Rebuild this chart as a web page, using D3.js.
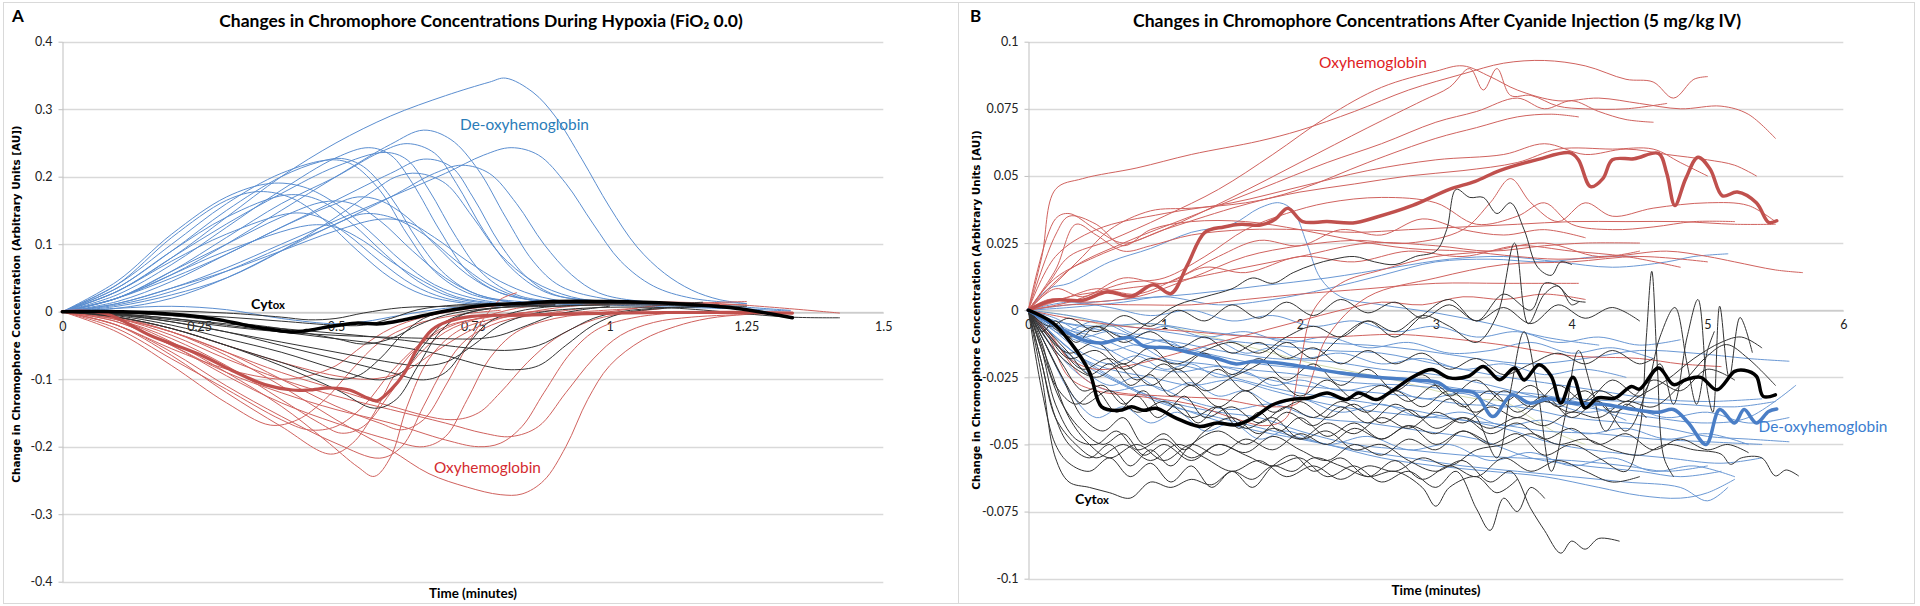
<!DOCTYPE html>
<html>
<head>
<meta charset="utf-8">
<script src="https://cdn.jsdelivr.net/npm/d3@7"></script>
<style>
  body { margin: 0; background: #fff; }
  svg { display: block; }
  text { font-family: Lato, "Open Sans", sans-serif; }
</style>
</head>
<body>
<svg id="chart"></svg>
<script>
// ---------- Panel A: hypoxia (time in minutes, change in AU) ----------
const hypoxiaTicksX = [0, 0.25, 0.5, 0.75, 1, 1.25, 1.5];
const hypoxiaTicksY = [-0.4, -0.3, -0.2, -0.1, 0, 0.1, 0.2, 0.3, 0.4];

const hypoxiaDeoxy = [
  [[0,0],[.1,.03],[.2,.08],[.3,.14],[.4,.2],[.5,.25],[.6,.29],[.7,.32],[.78,.34],[.81,.346],[.86,.325],[.9,.29],[.95,.225],[1,.155],[1.05,.096],[1.1,.057],[1.15,.032],[1.2,.018],[1.25,.012]],
  [[0,0],[.1,.02],[.2,.055],[.3,.1],[.4,.15],[.5,.2],[.6,.248],[.66,.269],[.71,.255],[.76,.21],[.81,.14],[.86,.075],[.91,.038],[1,.018],[1.1,.012],[1.2,.01]],
  [[0,0],[.1,.012],[.2,.035],[.3,.065],[.4,.1],[.5,.135],[.6,.17],[.7,.205],[.77,.232],[.82,.243],[.87,.232],[.92,.19],[.97,.13],[1.02,.075],[1.08,.038],[1.15,.02],[1.25,.012]],
  [[0,0],[.1,.02],[.2,.06],[.3,.11],[.4,.16],[.5,.2],[.58,.236],[.63,.249],[.68,.235],[.72,.19],[.77,.12],[.82,.065],[.88,.03],[.95,.017],[1.05,.012]],
  [[0,0],[.1,.025],[.2,.07],[.3,.125],[.4,.18],[.5,.228],[.56,.243],[.6,.232],[.64,.19],[.69,.12],[.74,.06],[.8,.028],[.88,.015],[.95,.012]],
  [[0,0],[.1,.015],[.2,.045],[.3,.085],[.4,.125],[.5,.165],[.6,.205],[.66,.226],[.71,.215],[.75,.17],[.8,.1],[.85,.05],[.9,.025],[1,.015],[1.1,.01]],
  [[0,0],[.1,.01],[.2,.03],[.3,.06],[.4,.095],[.5,.13],[.6,.17],[.68,.205],[.73,.217],[.78,.205],[.83,.16],[.88,.1],[.93,.055],[.98,.028],[1.05,.016],[1.15,.012],[1.33,.002]],
  [[0,0],[.1,.03],[.2,.08],[.3,.13],[.4,.175],[.5,.215],[.59,.236],[.63,.225],[.67,.18],[.72,.11],[.77,.055],[.83,.025],[.9,.015],[1,.012]],
  [[0,0],[.1,.035],[.2,.09],[.3,.15],[.4,.2],[.47,.222],[.51,.227],[.55,.215],[.6,.17],[.65,.105],[.7,.055],[.76,.025],[.85,.014],[.95,.01]],
  [[0,0],[.1,.04],[.2,.1],[.3,.16],[.4,.205],[.49,.225],[.53,.218],[.58,.18],[.63,.115],[.68,.06],[.74,.028],[.82,.014],[.9,.01]],
  [[0,0],[.1,.04],[.2,.11],[.3,.165],[.36,.178],[.42,.168],[.48,.135],[.54,.09],[.6,.05],[.66,.025],[.73,.013],[.8,.008]],
  [[0,0],[.1,.035],[.2,.09],[.3,.14],[.41,.173],[.47,.165],[.53,.13],[.59,.085],[.65,.045],[.71,.022],[.78,.012],[.86,.008]],
  [[0,0],[.1,.045],[.2,.115],[.3,.17],[.38,.19],[.44,.185],[.5,.16],[.56,.12],[.62,.075],[.68,.04],[.75,.02],[.83,.01]],
  [[0,0],[.1,.02],[.2,.06],[.3,.1],[.4,.14],[.48,.163],[.53,.16],[.58,.135],[.64,.09],[.7,.05],[.76,.025],[.84,.012],[.92,.008]],
  [[0,0],[.1,.012],[.2,.035],[.3,.06],[.4,.09],[.5,.12],[.58,.137],[.63,.133],[.68,.11],[.74,.075],[.8,.045],[.86,.025],[.93,.014],[1,.01],[1.25,.004]],
  [[0,0],[.1,.03],[.2,.075],[.3,.115],[.42,.146],[.47,.14],[.52,.115],[.58,.075],[.64,.04],[.7,.02],[.78,.01]],
  [[0,0],[.1,.02],[.2,.055],[.3,.09],[.45,.128],[.5,.125],[.55,.105],[.6,.075],[.66,.045],[.72,.022],[.8,.012],[.9,.008]],
  [[0,0],[.1,.02],[.2,.05],[.3,.085],[.4,.125],[.5,.16],[.54,.17],[.58,.165],[.63,.14],[.68,.1],[.74,.055],[.8,.028],[.88,.015],[.96,.01]],
  [[0,0],[.1,.008],[.2,.025],[.3,.05],[.4,.09],[.5,.14],[.57,.18],[.61,.2],[.65,.205],[.7,.19],[.75,.14],[.8,.085],[.86,.045],[.93,.022],[1,.014],[1.1,.01]],
  [[0,0],[.1,.005],[.2,.02],[.3,.05],[.4,.09],[.5,.13],[.55,.145],[.6,.14],[.66,.115],[.72,.075],[.78,.04],[.85,.018],[.95,.01]],
  [[0,0],[.1,.005],[.2,.008],[.3,.003],[.4,-.01],[.5,-.018],[.55,-.015],[.62,-.005],[.7,.005],[.8,.01],[.9,.012],[1,.012],[1.33,.001]]
];

const hypoxiaOxy = [
  [[0,0],[.1,-.008],[.2,-.03],[.3,-.065],[.4,-.11],[.5,-.16],[.6,-.205],[.67,-.24],[.74,-.26],[.8,-.271],[.84,-.27],[.88,-.25],[.92,-.2],[.96,-.13],[1,-.08],[1.06,-.042],[1.12,-.022],[1.18,-.01],[1.25,-.004],[1.33,-.002]],
  [[0,0],[.1,-.012],[.2,-.045],[.3,-.09],[.4,-.14],[.48,-.19],[.54,-.23],[.57,-.244],[.6,-.215],[.63,-.14],[.67,-.07],[.72,-.03],[.78,-.012],[.85,-.005],[.95,0],[1.05,.005]],
  [[0,0],[.1,-.01],[.2,-.035],[.3,-.07],[.4,-.1],[.5,-.125],[.6,-.145],[.7,-.165],[.77,-.18],[.82,-.185],[.87,-.17],[.92,-.12],[.97,-.07],[1.02,-.035],[1.08,-.016],[1.15,-.008],[1.25,-.004]],
  [[0,0],[.1,-.015],[.2,-.05],[.3,-.095],[.4,-.135],[.5,-.165],[.6,-.19],[.66,-.2],[.7,-.185],[.74,-.13],[.78,-.07],[.83,-.03],[.9,-.01],[1,0],[1.1,.01],[1.25,.015]],
  [[0,0],[.1,-.02],[.2,-.06],[.3,-.11],[.4,-.155],[.5,-.195],[.58,-.217],[.62,-.2],[.66,-.14],[.7,-.08],[.74,-.04],[.8,-.015],[.88,-.003],[.95,.005]],
  [[0,0],[.1,-.02],[.2,-.065],[.3,-.12],[.4,-.17],[.49,-.211],[.53,-.195],[.57,-.15],[.61,-.09],[.66,-.045],[.72,-.018],[.8,-.005],[.9,.002]],
  [[0,0],[.1,-.03],[.2,-.08],[.3,-.135],[.38,-.168],[.43,-.16],[.48,-.13],[.53,-.085],[.58,-.045],[.64,-.02],[.72,-.005],[.8,.002]],
  [[0,0],[.1,-.01],[.2,-.03],[.3,-.06],[.4,-.09],[.5,-.115],[.6,-.14],[.71,-.16],[.76,-.15],[.8,-.12],[.85,-.075],[.9,-.04],[.96,-.015],[1.02,-.003],[1.1,.005]],
  [[0,0],[.1,-.012],[.2,-.04],[.3,-.08],[.4,-.13],[.47,-.165],[.51,-.18],[.55,-.17],[.6,-.12],[.65,-.065],[.7,-.03],[.76,-.01],[.83,.005],[.9,.012]],
  [[0,0],[.1,-.01],[.2,-.03],[.3,-.06],[.4,-.1],[.5,-.14],[.58,-.165],[.62,-.175],[.66,-.16],[.7,-.11],[.74,-.05],[.77,-.01],[.8,.018],[.83,.028]],
  [[0,0],[.1,-.008],[.2,-.025],[.3,-.05],[.4,-.075],[.5,-.095],[.56,-.1],[.62,-.09],[.68,-.06],[.74,-.03],[.8,-.01],[.88,.003],[.96,.01],[1.1,.012],[1.25,.01]],
  [[0,0],[.1,-.025],[.2,-.07],[.3,-.115],[.4,-.16],[.45,-.175],[.5,-.17],[.55,-.14],[.6,-.09],[.65,-.05],[.7,-.022],[.78,-.008],[.86,0]],
  [[0,0],[.1,-.015],[.2,-.05],[.3,-.09],[.4,-.12],[.5,-.145],[.6,-.165],[.7,-.19],[.76,-.2],[.8,-.195],[.84,-.17],[.88,-.12],[.93,-.06],[.98,-.025],[1.05,-.008],[1.15,0]],
  [[0,0],[.1,-.02],[.2,-.055],[.3,-.085],[.4,-.1],[.45,-.095],[.5,-.08],[.55,-.05],[.6,-.025],[.66,-.008],[.75,.005],[.85,.012],[1,.015],[1.2,.012],[1.42,-.002]]
];

const hypoxiaCytox = [
  [[0,0],[.1,-.003],[.2,-.01],[.3,-.02],[.4,-.03],[.5,-.04],[.6,-.05],[.7,-.065],[.77,-.08],[.82,-.086],[.87,-.08],[.92,-.05],[.97,-.02],[1.02,-.003],[1.1,.005],[1.2,.008]],
  [[0,0],[.1,-.003],[.2,-.01],[.3,-.018],[.4,-.025],[.5,-.032],[.6,-.04],[.7,-.05],[.77,-.056],[.82,-.057],[.87,-.05],[.92,-.03],[.97,-.01],[1.02,0],[1.1,.006],[1.2,.008]],
  [[0,0],[.1,-.005],[.2,-.015],[.3,-.03],[.4,-.05],[.5,-.07],[.6,-.09],[.66,-.101],[.7,-.09],[.74,-.05],[.78,-.015],[.83,0],[.9,.008],[1,.01]],
  [[0,0],[.1,-.006],[.2,-.02],[.3,-.04],[.4,-.06],[.5,-.085],[.58,-.101],[.62,-.09],[.66,-.05],[.7,-.015],[.75,0],[.82,.008],[.9,.01]],
  [[0,0],[.1,-.008],[.2,-.025],[.3,-.05],[.4,-.08],[.5,-.115],[.57,-.143],[.61,-.13],[.65,-.08],[.69,-.03],[.73,-.005],[.8,.006],[.9,.01]],
  [[0,0],[.1,-.008],[.2,-.025],[.3,-.05],[.4,-.075],[.5,-.1],[.54,-.095],[.58,-.07],[.62,-.035],[.66,-.01],[.72,.004],[.8,.01]],
  [[0,0],[.1,-.004],[.2,-.012],[.3,-.022],[.4,-.03],[.5,-.035],[.6,-.038],[.7,-.04],[.76,-.04],[.8,-.035],[.85,-.02],[.9,-.005],[.95,.003],[1,.008]],
  [[0,0],[.1,-.002],[.2,-.004],[.3,-.008],[.4,-.014],[.5,-.02],[.55,-.02],[.6,-.01],[.65,.003],[.72,.01],[.8,.012],[.9,.012],[1,.012],[1.1,.012],[1.2,.01]],
  [[0,0],[.1,0],[.2,.001],[.3,-.002],[.4,-.008],[.45,-.012],[.5,-.01],[.55,-.002],[.62,.006],[.7,.008],[.8,.01],[.9,.012],[1,.012],[1.1,.012],[1.17,.014]],
  [[0,0],[.1,-.002],[.2,-.006],[.3,-.015],[.4,-.025],[.5,-.04],[.55,-.048],[.6,-.04],[.65,-.02],[.7,-.005],[.78,.005],[.9,.008],[1,.01],[1.25,.008]],
  [[0,0],[.1,-.004],[.2,-.015],[.3,-.03],[.4,-.045],[.5,-.06],[.6,-.075],[.65,-.08],[.7,-.075],[.75,-.05],[.8,-.02],[.86,-.003],[.95,.005],[1.1,.006],[1.33,-.008],[1.42,-.009]]
];

const hypoxiaOxyMean = [[0,0],[.08,-.003],[.16,-.035],[.25,-.063],[.31,-.087],[.37,-.108],[.42,-.116],[.45,-.116],[.49,-.113],[.525,-.116],[.558,-.128],[.575,-.132],[.6,-.116],[.625,-.091],[.647,-.057],[.675,-.027],[.703,-.015],[.748,-.007],[.837,-.005],[1,-.002],[1.23,-.001],[1.334,-.002]];
const hypoxiaCytoxMean = [[0,0],[.11,0],[.22,-.005],[.28,-.011],[.335,-.02],[.38,-.026],[.424,-.03],[.446,-.028],[.49,-.022],[.536,-.017],[.58,-.018],[.625,-.012],[.67,-.004],[.714,.003],[.78,.01],[.837,.012],[.893,.015],[1,.015],[1.116,.012],[1.23,.005],[1.334,-.009]];

// ---------- Panel B: cyanide injection ----------
const cyanideTicksX = [0, 1, 2, 3, 4, 5, 6];
const cyanideTicksY = [-0.1, -0.075, -0.05, -0.025, 0, 0.025, 0.05, 0.075, 0.1];

const cyanideOxy = [
  [[0,0],[.1,.02],[.2,.045],[.4,.049],[.8,.053],[1.2,.058],[1.7,.063],[2,.067],[2.4,.074],[2.8,.082],[3.2,.088],[3.5,.092],[3.8,.093],[4.1,.091],[4.4,.086],[4.6,.085],[4.75,.079],[4.9,.086],[5,.087]],
  [[0,0],[.15,.01],[.3,.02],[.6,.026],[1,.035],[1.4,.045],[1.8,.058],[2.2,.072],[2.6,.083],[3,.089],[3.2,.091],[3.4,.087],[3.6,.082],[3.9,.078],[4.2,.079],[4.5,.077],[4.8,.075],[5.1,.076],[5.3,.073],[5.5,.064]],
  [[0,0],[.2,.012],[.5,.02],[1,.03],[1.5,.042],[2,.055],[2.5,.068],[2.9,.078],[3.1,.083],[3.25,.09],[3.35,.082],[3.45,.09],[3.55,.08],[3.7,.08],[3.9,.076],[4.1,.075],[4.4,.075],[4.7,.077]],
  [[0,0],[.3,.015],[.7,.025],[1.2,.035],[1.7,.045],[2.2,.055],[2.6,.062],[3,.07],[3.3,.074],[3.6,.079],[3.8,.075],[4,.078],[4.2,.074],[4.4,.071],[4.6,.07]],
  [[0,0],[.2,.034],[.3,.036],[.5,.03],[.7,.025],[1,.03],[1.5,.038],[2,.045],[2.5,.055],[3,.064],[3.3,.068],[3.6,.072],[3.85,.073],[4.05,.072]],
  [[0,0],[.2,.02],[.5,.03],[1,.036],[1.5,.04],[2,.046],[2.5,.052],[3,.056],[3.5,.058],[3.8,.062],[4.1,.058],[4.4,.06],[4.7,.058],[5,.056],[5.2,.054],[5.36,.05]],
  [[0,0],[.15,.004],[.4,.003],[.8,.005],[1.2,.012],[1.6,.02],[2,.024],[2.4,.026],[2.8,.025],[3.2,.03],[3.4,.04],[3.55,.049],[3.7,.04],[3.9,.033],[4.1,.04],[4.3,.035],[4.6,.038],[5,.04],[5.3,.039],[5.5,.033]],
  [[0,0],[.2,.028],[.3,.035],[.5,.032],[.7,.024],[.9,.03],[1.2,.033],[1.6,.033],[2,.03],[2.4,.026],[2.8,.023],[3.2,.022],[3.6,.02],[3.9,.019],[4.3,.02],[4.7,.022],[5,.02],[5.2,.018],[5.5,.015],[5.7,.014]],
  [[0,0],[.3,.005],[.7,.008],[1,.01],[1.5,.015],[2,.02],[2.5,.025],[3,.024],[3.4,.022],[3.8,.024],[4.1,.025],[4.5,.025]],
  [[0,0],[.3,.002],[.8,.002],[1.2,.002],[1.6,.004],[2,.006],[2.5,.008],[3,.01],[3.5,.01],[4.05,.01]],
  [[0,0],[.15,-.01],[.3,-.025],[.5,-.03],[.8,-.032],[1.2,-.035],[1.5,-.04],[1.75,-.043],[1.9,-.04],[2,-.02],[2.1,0],[2.3,.01],[2.6,.015],[3,.02],[3.4,.022],[3.8,.025],[4.2,.02],[4.5,.022]],
  [[0,0],[.2,-.012],[.4,-.025],[.6,-.03],[1,-.032],[1.4,-.033],[1.8,-.036],[2,-.034],[2.2,-.01],[2.5,.005],[3,.012],[3.5,.017],[4,.018],[4.5,.02],[5,.018]],
  [[0,0],[.3,-.003],[.7,-.006],[1.2,-.008],[1.7,-.01],[2.2,-.01],[2.7,-.009],[3,-.01],[3.5,-.013],[4,-.017],[4.5,-.018],[4.8,-.02],[5.1,-.021]],
  [[0,0],[.2,.015],[.35,.032],[.5,.028],[.7,.022],[.9,.024],[1.2,.028],[1.6,.03],[2,.03],[2.4,.029],[2.8,.03],[3.2,.031],[3.6,.032],[4,.033],[4.4,.033],[4.8,.033],[5.2,.032],[5.5,.032]],
  [[0,0],[.2,.01],[.4,.02],[.6,.03],[.9,.037],[1.2,.038],[1.6,.04],[2,.044],[2.4,.047],[2.8,.05],[3.2,.052],[3.6,.055],[3.9,.06],[4.3,.06],[4.6,.06],[4.8,.055],[5,.05]],
  [[0,0],[.3,.003],[.7,.01],[1,.012],[1.3,.02],[1.6,.03],[1.9,.036],[2.2,.04],[2.6,.042],[3,.04],[3.3,.032],[3.6,.035],[3.8,.04],[4,.032],[4.3,.03],[4.6,.031],[4.9,.033],[5.2,.033]],
  [[0,0],[.2,.008],[.4,.005],[.7,.012],[1,.01],[1.3,.016],[1.6,.014],[2,.02],[2.4,.018],[2.8,.022],[3.2,.02],[3.6,.024],[4,.022],[4.4,.02],[4.8,.016]],
  [[0,0],[.25,.004],[.5,.008],[.8,.006],[1.1,.012],[1.4,.02],[1.7,.026],[2,.024],[2.3,.03],[2.6,.028],[2.9,.034],[3.2,.03],[3.5,.028],[3.8,.03],[4.1,.027]],
  [[0,0],[.15,-.008],[.3,-.018],[.5,-.022],[.8,-.02],[1.1,-.016],[1.4,-.012],[1.7,-.008],[2,-.004],[2.3,0],[2.6,.003],[2.9,.002],[3.2,.005],[3.5,.004],[3.8,.006],[4.1,.004]]
];

const cyanideDeoxy = [
  [[0,0],[.15,.008],[.3,.01],[.6,.018],[.9,.023],[1.2,.029],[1.5,.032],[1.7,.038],[1.85,.04],[1.95,.037],[2.05,.025],[2.15,.012],[2.3,.005],[2.6,.002],[3,-.001],[3.4,-.005],[3.8,-.01],[4.2,-.013]],
  [[0,0],[.3,.002],[.7,.004],[1.2,.006],[1.7,.009],[2.2,.012],[2.7,.016],[3.1,.019],[3.5,.02],[3.9,.018],[4.3,.016],[4.7,.018],[4.9,.02],[5.15,.021]],
  [[0,0],[.2,-.004],[.5,-.006],[.9,-.005],[1.3,-.008],[1.7,-.01],[2.1,-.012],[2.5,-.013],[2.9,-.015],[3.3,-.018],[3.7,-.02],[4.1,-.018],[4.5,-.015],[4.9,-.016],[5.3,-.018],[5.6,-.019]],
  [[0,0],[.2,-.008],[.4,-.012],[.6,-.015],[.8,-.013],[1,-.018],[1.3,-.02],[1.6,-.022],[2,-.024],[2.4,-.027],[2.8,-.028],[3.2,-.03],[3.6,-.032],[4,-.033],[4.4,-.034],[4.8,-.035],[5.2,-.036],[5.5,-.034]],
  [[0,0],[.2,-.01],[.4,-.018],[.6,-.022],[.9,-.025],[1.2,-.028],[1.5,-.026],[1.8,-.03],[2.2,-.035],[2.6,-.038],[3,-.04],[3.4,-.042],[3.8,-.045],[4.2,-.046],[4.6,-.048],[5,-.049],[5.4,-.05]],
  [[0,0],[.2,-.012],[.4,-.02],[.7,-.028],[1,-.035],[1.4,-.04],[1.8,-.045],[2.2,-.05],[2.6,-.055],[3,-.058],[3.4,-.06],[3.8,-.062],[4.2,-.066],[4.5,-.069],[4.8,-.07],[5,-.068],[5.2,-.063]],
  [[0,0],[.2,-.006],[.5,-.01],[.8,-.016],[1.1,-.02],[1.5,-.025],[1.9,-.03],[2.3,-.033],[2.7,-.036],[3.1,-.04],[3.5,-.044],[3.9,-.05],[4.3,-.053],[4.7,-.055],[5.1,-.057],[5.4,-.055]],
  [[0,0],[.25,-.008],[.5,-.004],[.8,-.01],[1.1,-.012],[1.4,-.015],[1.8,-.018],[2.2,-.019],[2.6,-.022],[3,-.024],[3.4,-.028],[3.8,-.033],[4.2,-.037],[4.6,-.04],[5,-.042],[5.3,-.04],[5.65,-.028]],
  [[0,0],[.2,-.015],[.4,-.025],[.6,-.03],[.9,-.028],[1.2,-.034],[1.5,-.037],[1.8,-.035],[2.1,-.04],[2.5,-.042],[2.9,-.045],[3.3,-.048],[3.7,-.055],[4.1,-.058],[4.5,-.06],[4.8,-.062],[5.1,-.06]],
  [[0,0],[.2,-.005],[.5,-.012],[.8,-.02],[1.1,-.023],[1.4,-.021],[1.7,-.025],[2,-.028],[2.4,-.03],[2.8,-.032],[3.2,-.035],[3.6,-.036],[4,-.04],[4.4,-.042],[4.7,-.044],[5,-.047],[5.3,-.048],[5.6,-.049]],
  [[0,0],[.3,.001],[.7,.003],[1,.005],[1.4,.002],[1.8,.004],[2.2,.008],[2.6,.013],[3,.018],[3.4,.019],[3.8,.018],[4.2,.02],[4.5,.02]],
  [[0,0],[.2,-.01],[.4,-.018],[.8,-.03],[1.2,-.038],[1.6,-.044],[2,-.048],[2.4,-.052],[2.8,-.055],[3.2,-.058],[3.6,-.06],[4,-.062],[4.4,-.064],[4.8,-.066],[5,-.071],[5.15,-.066]],
  [[0,0],[.25,-.012],[.5,-.022],[.8,-.03],[1.1,-.035],[1.4,-.038],[1.7,-.04],[2,-.045],[2.4,-.05],[2.8,-.052],[3.2,-.054],[3.6,-.055],[4,-.056],[4.4,-.058],[4.7,-.06],[5,-.058]],
  [[0,0],[.3,-.002],[.6,-.005],[1,-.008],[1.4,-.011],[1.8,-.013],[2.2,-.015],[2.6,-.016],[3,-.02],[3.4,-.024],[3.8,-.027],[4.2,-.03],[4.6,-.033],[5,-.034],[5.4,-.033]],
  [[0,0],[.2,-.004],[.6,-.008],[1,-.012],[1.3,-.016],[1.7,-.02],[2.1,-.022],[2.5,-.024],[2.9,-.027],[3.3,-.03],[3.7,-.031],[4.1,-.035],[4.4,-.041]],
  [[0,0],[.2,-.006],[.4,-.01],[.6,-.008],[.8,-.013],[1,-.011],[1.2,-.015],[1.4,-.012],[1.6,-.016],[1.8,-.014],[2,-.018],[2.3,-.016],[2.6,-.02],[2.9,-.018],[3.2,-.022],[3.5,-.02],[3.8,-.024],[4.1,-.022],[4.4,-.025]],
  [[0,0],[.2,-.012],[.4,-.022],[.6,-.028],[.8,-.025],[1,-.03],[1.2,-.027],[1.4,-.032],[1.6,-.03],[1.8,-.035],[2,-.033],[2.3,-.038],[2.6,-.035],[2.9,-.04],[3.2,-.038],[3.5,-.043],[3.8,-.041],[4.1,-.046],[4.4,-.044],[4.7,-.048],[5,-.046],[5.3,-.05]],
  [[0,0],[.15,-.015],[.3,-.03],[.5,-.04],[.7,-.036],[.9,-.042],[1.1,-.038],[1.3,-.045],[1.5,-.042],[1.7,-.048],[1.9,-.045],[2.2,-.05],[2.5,-.047],[2.8,-.052],[3.1,-.05],[3.4,-.056],[3.7,-.053],[4,-.058],[4.3,-.055],[4.6,-.06],[4.9,-.058],[5.2,-.062]],
  [[0,0],[.2,-.003],[.4,-.008],[.6,-.005],[.8,-.009],[1,-.006],[1.3,-.01],[1.6,-.008],[1.9,-.012],[2.2,-.01],[2.5,-.014],[2.8,-.012],[3.1,-.016],[3.4,-.015],[3.7,-.012],[4,-.016],[4.3,-.014],[4.6,-.018]],
  [[0,0],[.2,-.008],[.4,-.016],[.6,-.02],[.8,-.017],[1,-.022],[1.2,-.02],[1.4,-.025],[1.6,-.023],[1.8,-.028],[2,-.026],[2.3,-.03],[2.6,-.028],[2.9,-.033],[3.2,-.031],[3.5,-.036],[3.8,-.034],[4.1,-.038],[4.4,-.036],[4.7,-.04],[5,-.038],[5.3,-.042],[5.6,-.04]],
  [[0,0],[.3,.003],[.6,.001],[.9,-.002],[1.2,0],[1.5,-.004],[1.8,-.002],[2.1,-.006],[2.4,-.004],[2.7,-.008],[3,-.006],[3.3,-.01],[3.6,-.008],[3.9,-.012],[4.2,-.01],[4.5,-.013],[4.8,-.011]]
];

const cyanideCytox = [
  [[0,0],[.1,-.025],[.2,-.055],[.3,-.064],[.45,-.066],[.6,-.068],[.75,-.07],[.9,-.064],[1.05,-.066],[1.2,-.063],[1.35,-.065],[1.5,-.06],[1.65,-.063],[1.8,-.058],[1.95,-.06],[2.1,-.055],[2.3,-.058],[2.5,-.062],[2.7,-.06],[2.9,-.066],[3,-.073],[3.1,-.066],[3.3,-.062],[3.45,-.068],[3.6,-.063]],
  [[0,0],[.1,-.008],[.2,-.004],[.35,-.012],[.5,-.006],[.7,-.01],[.9,-.004],[1.1,.002],[1.3,.005],[1.5,.008],[1.65,.012],[1.8,.01],[1.95,.014],[2.1,.017],[2.25,.019],[2.4,.02],[2.55,.018],[2.7,.017],[2.85,.02],[3,.022],[3.08,.03],[3.15,.045],[3.25,.042],[3.35,.042],[3.45,.036],[3.55,.04],[3.65,.03],[3.75,.016],[3.85,.013],[3.92,.018],[4,.017]],
  [[0,0],[.15,-.01],[.3,-.018],[.5,-.015],[.7,-.022],[.9,-.018],[1.1,-.02],[1.3,-.015],[1.5,-.012],[1.7,-.016],[1.9,-.01],[2.1,-.006],[2.3,-.01],[2.5,-.004],[2.7,-.008],[2.9,-.002],[3.1,-.006],[3.3,-.012],[3.45,-.002],[3.58,.025],[3.68,-.005],[3.8,.006],[3.9,.009],[4,.002],[4.05,.003]],
  [[0,0],[.1,-.015],[.2,-.035],[.35,-.048],[.5,-.05],[.65,-.045],[.8,-.052],[1,-.048],[1.2,-.055],[1.4,-.05],[1.6,-.053],[1.8,-.047],[2,-.052],[2.2,-.056],[2.4,-.05],[2.6,-.054],[2.8,-.048],[3,-.052],[3.2,-.045],[3.4,-.05],[3.6,-.046],[3.8,-.054],[4,-.05],[4.2,-.055],[4.4,-.06],[4.5,-.045],[4.55,-.01],[4.59,.0145],[4.63,-.02],[4.68,-.055],[4.75,-.062]],
  [[0,0],[.1,-.01],[.25,-.025],[.4,-.04],[.55,-.045],[.7,-.04],[.85,-.05],[1,-.046],[1.15,-.052],[1.3,-.045],[1.5,-.04],[1.7,-.046],[1.9,-.038],[2.1,-.043],[2.3,-.036],[2.5,-.042],[2.7,-.035],[2.9,-.04],[3.1,-.033],[3.3,-.038],[3.5,-.03],[3.7,-.036],[3.9,-.028],[4.1,-.034],[4.3,-.026],[4.5,-.032],[4.65,-.02],[4.75,-.035],[4.85,-.01],[4.93,.004],[5,-.03],[5.04,-.038],[5.09,.0015],[5.16,-.025],[5.24,-.0027],[5.33,-.0157]],
  [[0,0],[.15,-.02],[.3,-.04],[.45,-.05],[.6,-.055],[.8,-.05],[1,-.056],[1.2,-.05],[1.4,-.054],[1.6,-.048],[1.8,-.052],[2,-.046],[2.2,-.05],[2.4,-.044],[2.6,-.048],[2.8,-.043],[3,-.046],[3.2,-.04],[3.4,-.044],[3.6,-.04],[3.8,-.043],[4,-.038],[4.2,-.04],[4.4,-.034],[4.6,-.036],[4.8,-.028],[5,-.017],[5.14,-.0128],[5.3,-.018],[5.5,-.028]],
  [[0,0],[.1,-.02],[.2,-.04],[.35,-.05],[.5,-.055],[.7,-.05],[.9,-.056],[1.1,-.05],[1.3,-.055],[1.5,-.06],[1.7,-.056],[1.9,-.062],[2.1,-.058],[2.3,-.063],[2.5,-.058],[2.7,-.06],[2.9,-.055],[3.1,-.058],[3.3,-.052],[3.5,-.05],[3.7,-.046],[3.9,-.05],[4.1,-.048],[4.3,-.052],[4.5,-.054],[4.7,-.05],[4.9,-.052],[5.1,-.0536],[5.17,-.0574],[5.25,-.055],[5.4,-.055],[5.5,-.0617],[5.58,-.0595],[5.67,-.0617]],
  [[0,0],[.1,-.01],[.25,-.025],[.4,-.035],[.6,-.03],[.8,-.038],[1,-.034],[1.2,-.04],[1.4,-.036],[1.6,-.044],[1.8,-.04],[2,-.048],[2.2,-.045],[2.4,-.052],[2.6,-.05],[2.8,-.056],[3,-.06],[3.2,-.056],[3.4,-.064],[3.55,-.06],[3.7,-.074],[3.8,-.082],[3.92,-.0905],[4,-.086],[4.1,-.089],[4.2,-.085],[4.35,-.086]],
  [[0,0],[.1,-.015],[.25,-.035],[.4,-.045],[.55,-.05],[.7,-.046],[.85,-.054],[1,-.05],[1.2,-.056],[1.4,-.05],[1.6,-.054],[1.8,-.058],[2,-.055],[2.2,-.062],[2.4,-.058],[2.6,-.064],[2.8,-.06],[3,-.066],[3.15,-.06],[3.3,-.074],[3.4,-.082],[3.5,-.07],[3.6,-.075],[3.7,-.066],[3.8,-.07]],
  [[0,0],[.1,-.008],[.25,-.02],[.4,-.03],[.55,-.028],[.7,-.035],[.85,-.03],[1,-.038],[1.15,-.032],[1.3,-.04],[1.5,-.036],[1.7,-.042],[1.9,-.036],[2.1,-.04],[2.3,-.034],[2.5,-.038],[2.7,-.03],[2.9,-.036],[3.1,-.03],[3.3,-.04],[3.45,-.055],[3.55,-.03],[3.65,-.008],[3.75,-.03],[3.85,-.06],[3.95,-.04],[4.05,-.015],[4.15,-.03],[4.25,-.045],[4.4,-.035],[4.55,-.04]],
  [[0,0],[.15,-.005],[.3,-.01],[.5,-.006],[.7,-.012],[.9,-.008],[1.1,-.014],[1.3,-.01],[1.5,-.016],[1.7,-.012],[1.9,-.018],[2.1,-.014],[2.3,-.02],[2.5,-.015],[2.7,-.02],[2.9,-.016],[3.1,-.022],[3.3,-.018],[3.5,-.024],[3.7,-.02],[3.9,-.016],[4.1,-.02],[4.3,-.015],[4.5,-.02],[4.6,-.018]],
  [[0,0],[.15,-.012],[.3,-.02],[.5,-.025],[.7,-.02],[.9,-.028],[1.1,-.022],[1.3,-.03],[1.5,-.025],[1.7,-.02],[1.9,-.012],[2.1,-.018],[2.3,-.01],[2.5,-.004],[2.7,-.01],[2.9,-.002],[3.1,.004],[3.3,-.004],[3.5,.006],[3.7,0],[3.8,.01],[3.9,.009],[4,.004],[4.1,.003]],
  [[0,0],[.1,-.02],[.2,-.04],[.3,-.05],[.45,-.055],[.6,-.05],[.75,-.058],[.9,-.052],[1.05,-.058],[1.2,-.05],[1.4,-.045],[1.6,-.05],[1.8,-.044],[2,-.048],[2.2,-.042],[2.4,-.046],[2.6,-.04],[2.8,-.044],[3,-.038],[3.2,-.042],[3.4,-.036],[3.6,-.04],[3.8,-.034],[4,-.038],[4.2,-.03],[4.4,-.034],[4.6,-.026],[4.8,-.03],[5,-.022],[5.2,-.026]],
  [[0,0],[.1,-.006],[.25,-.015],[.4,-.022],[.6,-.018],[.8,-.026],[1,-.02],[1.2,-.028],[1.4,-.022],[1.6,-.03],[1.8,-.025],[2,-.032],[2.2,-.026],[2.4,-.033],[2.6,-.028],[2.8,-.034],[3,-.028],[3.2,-.036],[3.4,-.03],[3.6,-.038],[3.8,-.032],[4,-.04],[4.2,-.034],[4.4,-.045],[4.55,-.03],[4.65,-.01],[4.76,.001],[4.85,-.02],[4.92,-.035],[5,-.015],[5.05,-.008]],
  [[0,0],[.1,-.012],[.2,-.028],[.35,-.035],[.5,-.03],[.65,-.038],[.8,-.032],[.95,-.04],[1.1,-.035],[1.25,-.042],[1.4,-.036],[1.55,-.044],[1.7,-.038],[1.85,-.045],[2,-.04],[2.2,-.047],[2.4,-.042],[2.6,-.048],[2.8,-.043],[3,-.05],[3.2,-.045],[3.4,-.05]],
  [[0,0],[.1,-.03],[.2,-.05],[.3,-.057],[.45,-.06],[.6,-.055],[.75,-.062],[.9,-.057],[1.05,-.064],[1.2,-.058],[1.35,-.066],[1.5,-.06],[1.65,-.066],[1.8,-.058],[1.95,-.054],[2.1,-.06],[2.3,-.055],[2.5,-.062],[2.7,-.056],[2.9,-.063],[3.1,-.058],[3.3,-.062],[3.5,-.055],[3.7,-.06],[3.9,-.056],[4.1,-.06],[4.3,-.064],[4.5,-.062]],
  [[0,0],[.15,-.008],[.3,-.016],[.45,-.024],[.6,-.02],[.75,-.028],[.9,-.024],[1.05,-.032],[1.2,-.028],[1.4,-.036],[1.6,-.03],[1.8,-.038],[2,-.034],[2.2,-.04],[2.4,-.035],[2.6,-.042],[2.8,-.037],[3,-.044],[3.2,-.04],[3.4,-.046],[3.6,-.042],[3.8,-.048],[4,-.044],[4.2,-.05],[4.4,-.046],[4.6,-.052],[4.8,-.048],[5,-.052],[5.15,-.05],[5.3,-.053]],
  [[0,0],[.15,-.006],[.3,-.003],[.5,-.008],[.7,-.002],[.9,-.006],[1.1,0],[1.3,-.004],[1.5,.002],[1.7,-.003],[1.9,.003],[2.1,-.002],[2.3,.004],[2.5,-.001],[2.7,.003],[2.9,-.003],[3.1,.002],[3.3,-.004],[3.5,.001],[3.7,-.005],[3.9,.002],[4.1,-.003],[4.3,.001],[4.5,-.004]],
  [[0,0],[.15,-.01],[.3,-.016],[.5,-.012],[.7,-.02],[.9,-.014],[1.1,-.022],[1.3,-.016],[1.5,-.024],[1.7,-.018],[1.9,-.026],[2.1,-.02],[2.3,-.028],[2.5,-.022],[2.7,-.03],[2.9,-.024],[3.1,-.032],[3.3,-.026],[3.5,-.034],[3.7,-.028],[3.9,-.036],[4.1,-.03],[4.3,-.038],[4.5,-.032],[4.7,-.026],[4.9,-.018],[5.1,-.012],[5.25,-.01],[5.4,-.014]]
];

const cyanideOther = [
  [[0,0],[.3,-.002],[.6,-.006],[.9,-.005],[1.2,-.008],[1.5,-.012],[1.8,-.016],[2.1,-.02],[2.4,-.023],[2.7,-.026],[3,-.03],[3.3,-.033],[3.5,-.034],[3.7,-.04],[3.9,-.046],[4.1,-.05]]
];

const cyanideOxyMean = [[0,0],[.18,.0037],[.4,.0037],[.58,.0068],[.76,.0052],[.92,.0095],[1.05,.0062],[1.17,.0167],[1.3,.029],[1.44,.031],[1.57,.032],[1.71,.0317],[1.82,.034],[1.91,.038],[2.02,.033],[2.2,.033],[2.39,.0325],[2.56,.0346],[2.83,.039],[3.1,.045],[3.29,.048],[3.47,.052],[3.74,.056],[3.99,.0586],[4.05,.056],[4.14,.046],[4.23,.049],[4.3,.056],[4.46,.0564],[4.64,.0584],[4.7,.051],[4.76,.039],[4.84,.049],[4.93,.057],[5.02,.0525],[5.11,.0426],[5.22,.044],[5.36,.04],[5.45,.0327],[5.51,.0333]];
const cyanideDeoxyMean = [[0,0],[.18,-.0053],[.4,-.011],[.54,-.0122],[.67,-.0107],[.76,-.0103],[.85,-.0134],[1.03,-.014],[1.21,-.016],[1.39,-.018],[1.53,-.02],[1.66,-.019],[1.84,-.0197],[2.02,-.021],[2.3,-.0234],[2.56,-.025],[2.84,-.026],[3.02,-.027],[3.1,-.0296],[3.29,-.031],[3.42,-.0396],[3.56,-.0315],[3.69,-.0346],[3.83,-.033],[4,-.0346],[4.23,-.035],[4.46,-.037],[4.64,-.038],[4.75,-.037],[4.86,-.042],[4.99,-.05],[5.09,-.037],[5.2,-.042],[5.27,-.037],[5.36,-.042],[5.45,-.0377],[5.51,-.0368]];
const cyanideCytoxMean = [[0,0],[.18,-.0047],[.31,-.012],[.45,-.023],[.54,-.036],[.67,-.0373],[.76,-.036],[.85,-.0373],[.94,-.0365],[1.08,-.04],[1.26,-.0433],[1.39,-.042],[1.53,-.0427],[1.66,-.04],[1.8,-.0352],[1.93,-.0333],[2.07,-.0327],[2.2,-.0308],[2.34,-.0333],[2.43,-.0308],[2.56,-.0333],[2.65,-.031],[2.84,-.0246],[2.97,-.0221],[3.1,-.0252],[3.24,-.0246],[3.35,-.021],[3.47,-.0259],[3.58,-.0215],[3.65,-.026],[3.76,-.0203],[3.85,-.0246],[3.92,-.0346],[4.01,-.025],[4.1,-.0364],[4.19,-.0327],[4.32,-.0327],[4.44,-.0284],[4.5,-.0294],[4.64,-.0215],[4.75,-.0277],[4.84,-.0259],[4.95,-.025],[5.07,-.0296],[5.2,-.0228],[5.27,-.0224],[5.36,-.0246],[5.41,-.0321],[5.5,-.0315]];

// ---------- drawing ----------
const width = 1920;
const height = 606;

const svg = d3.select("#chart")
  .attr("width", width)
  .attr("height", height);

const fmt = d => String(+d.toFixed(3));

// scale a text's font size so it spans the measured width
function fitWidth(sel, target) {
  const w = sel.node().getComputedTextLength();
  const fs = parseFloat(sel.attr("font-size"));
  sel.attr("font-size", fs * target / w);
}

function drawPanel(p) {
  const g = svg.append("g");

  g.append("rect")
    .attr("x", p.frame[0] + 0.5)
    .attr("y", 2.5)
    .attr("width", p.frame[1] - p.frame[0])
    .attr("height", 601)
    .attr("fill", "none")
    .attr("stroke", "#d9d9d9");

  const x = d3.scaleLinear().domain(p.xDomain).range([p.left, p.right]);
  const y = d3.scaleLinear().domain(p.yDomain).range([p.bottom, p.top]);

  // gridlines
  g.append("g")
    .selectAll("line")
    .data(p.yTicks)
    .enter()
    .append("line")
    .attr("x1", p.left)
    .attr("x2", p.right)
    .attr("y1", d => Math.round(y(d)) + 0.5)
    .attr("y2", d => Math.round(y(d)) + 0.5)
    .attr("stroke", "#d9d9d9")
    .attr("stroke-width", 1.5);

  const yAxis = g.append("g")
    .attr("transform", `translate(${Math.round(p.left) + 0.5},0)`)
    .call(d3.axisLeft(y).tickValues(p.yTicks).tickFormat(fmt).tickSize(4).tickSizeOuter(0).tickPadding(6));
  yAxis.select(".domain").attr("stroke", "#bfbfbf");
  yAxis.selectAll(".tick line").attr("stroke", "#bfbfbf");
  yAxis.selectAll("text").attr("font-size", 12.5).attr("fill", "#222").style("font-family", "Lato, sans-serif");

  // x axis sits on zero
  const xAxis = g.append("g")
    .attr("transform", `translate(0,${Math.round(y(0)) + 0.5})`)
    .call(d3.axisBottom(x).tickValues(p.xTicks).tickFormat(fmt).tickSize(0).tickSizeOuter(0).tickPadding(10));
  xAxis.select(".domain").attr("stroke", "#bfbfbf");
  xAxis.selectAll("text").attr("font-size", 12.5).attr("fill", "#222").style("font-family", "Lato, sans-serif");

  const line = d3.line()
    .x(d => x(d[0]))
    .y(d => y(d[1]))
    .curve(d3.curveCatmullRom.alpha(0.5));

  p.series.forEach(s => {
    g.append("g")
      .selectAll("path")
      .data(s.lines)
      .enter()
      .append("path")
      .attr("d", line)
      .attr("fill", "none")
      .attr("stroke", s.color)
      .attr("stroke-width", s.width)
      .attr("stroke-linejoin", "round")
      .attr("stroke-linecap", "round");
  });

  g.append("text")
    .attr("x", p.letter[1])
    .attr("y", 22)
    .attr("font-size", 17)
    .attr("font-weight", "bold")
    .text(p.letter[0]);

  const title = g.append("text")
    .attr("x", p.title[1])
    .attr("y", 27)
    .attr("text-anchor", "middle")
    .attr("font-size", 16)
    .attr("font-weight", "bold")
    .text(p.title[0]);
  fitWidth(title, p.title[2]);

  const yl = g.append("text")
    .attr("transform", `translate(${p.yLabel[0]},${p.yLabel[1]}) rotate(-90)`)
    .attr("text-anchor", "middle")
    .attr("dy", "0.35em")
    .attr("font-size", 10)
    .attr("font-weight", "bold")
    .style("font-family", "'DejaVu Sans', sans-serif")
    .text("Change in Chromophore Concentration (Arbitrary Units [AU])");
  fitWidth(yl, p.yLabel[2]);

  const xl = g.append("text")
    .attr("x", p.xLabel[0])
    .attr("y", p.xLabel[1])
    .attr("dy", "0.35em")
    .attr("text-anchor", "middle")
    .attr("font-size", 13)
    .attr("font-weight", "bold")
    .text("Time (minutes)");
  fitWidth(xl, p.xLabel[2]);

  p.notes.forEach(n => {
    const t = g.append("text")
      .attr("x", n.x)
      .attr("y", n.y)
      .attr("dy", "0.35em")
      .attr("text-anchor", "middle")
      .attr("font-size", 16)
      .attr("font-weight", n.bold ? "bold" : "normal")
      .attr("fill", n.color);
    if (n.text === "Cytox") {
      t.text("Cyt");
      t.append("tspan").attr("font-size", "80%").text("ox");
    } else {
      t.text(n.text);
    }
    fitWidth(t, n.w);
  });
}

drawPanel({
  frame: [3, 958],
  left: 62.3, right: 883.3, top: 41.7, bottom: 581.7,
  xDomain: [0, 1.5], yDomain: [-0.4, 0.4],
  xTicks: hypoxiaTicksX, yTicks: hypoxiaTicksY,
  letter: ["A", 12],
  title: ["Changes in Chromophore Concentrations During Hypoxia (FiO\u2082 0.0)", 481, 524],
  yLabel: [16, 304, 358],
  xLabel: [473, 593, 88],
  series: [
    { lines: hypoxiaDeoxy, color: "#5b8ed0", width: 1 },
    { lines: hypoxiaOxy, color: "#d0625e", width: 1 },
    { lines: hypoxiaCytox, color: "#333", width: 1 },
    { lines: [hypoxiaOxyMean], color: "#c0504d", width: 3.2 },
    { lines: [hypoxiaCytoxMean], color: "#000", width: 3.5 }
  ],
  notes: [
    { text: "De-oxyhemoglobin", x: 524.5, y: 125, w: 129, color: "#2a7cb8" },
    { text: "Cytox", x: 268, y: 304, w: 34, color: "#000", bold: true },
    { text: "Oxyhemoglobin", x: 487.5, y: 468, w: 107, color: "#d42b30" }
  ]
});

drawPanel({
  frame: [958, 1914],
  left: 1028.3, right: 1843.3, top: 41.7, bottom: 578.7,
  xDomain: [0, 6], yDomain: [-0.1, 0.1],
  xTicks: cyanideTicksX, yTicks: cyanideTicksY,
  letter: ["B", 970],
  title: ["Changes in Chromophore Concentrations After Cyanide Injection (5 mg/kg IV)", 1437, 608],
  yLabel: [976, 310, 360],
  xLabel: [1436, 590, 89],
  series: [
    { lines: cyanideOther, color: "#d3dcb0", width: 1 },
    { lines: cyanideDeoxy, color: "#6a98d4", width: 1 },
    { lines: cyanideOxy, color: "#d0625e", width: 1 },
    { lines: cyanideCytox, color: "#333", width: 1 },
    { lines: [cyanideOxyMean], color: "#c0504d", width: 3.5 },
    { lines: [cyanideDeoxyMean], color: "#4a7ec6", width: 3.5 },
    { lines: [cyanideCytoxMean], color: "#000", width: 3.5 }
  ],
  notes: [
    { text: "Oxyhemoglobin", x: 1373, y: 63, w: 108, color: "#e0221f" },
    { text: "De-oxyhemoglobin", x: 1823, y: 427, w: 129, color: "#3b7dd0" },
    { text: "Cytox", x: 1092, y: 499, w: 34, color: "#000", bold: true }
  ]
});
</script>
</body>
</html>
